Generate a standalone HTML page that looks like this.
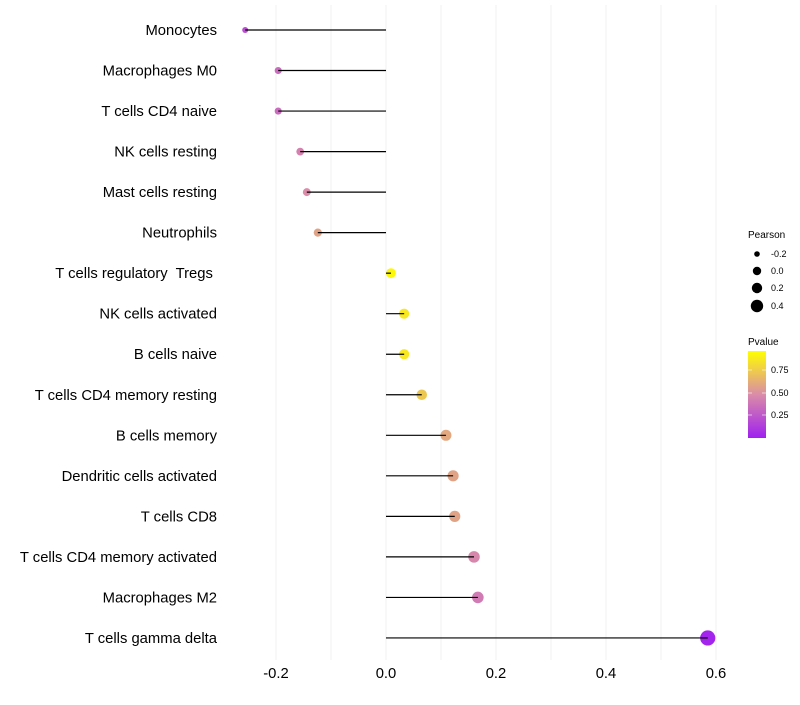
<!DOCTYPE html>
<html><head><meta charset="utf-8"><style>
body{margin:0;background:#fff;}
svg text{font-family:"Liberation Sans",sans-serif;white-space:pre;}
</style></head><body>
<svg width="800" height="700" xmlns="http://www.w3.org/2000/svg">
<defs><linearGradient id="pg" x1="0" y1="1" x2="0" y2="0">
<stop offset="0" stop-color="#a020f0"/><stop offset="0.5" stop-color="#da8ca8"/><stop offset="1" stop-color="#ffff00"/></linearGradient></defs>
<g id="grid"></g>
<g id="marks"></g>
<g id="ylabels"></g>
<g id="xlabels"></g>
<g font-size="9">
<text x="748" y="238" font-size="10">Pearson</text>
<circle cx="757" cy="254" r="2.8" fill="#000"/><text x="771" y="257">-0.2</text>
<circle cx="757" cy="271" r="4.2" fill="#000"/><text x="771" y="274">0.0</text>
<circle cx="757" cy="288" r="5.2" fill="#000"/><text x="771" y="291">0.2</text>
<circle cx="757" cy="306" r="6.2" fill="#000"/><text x="771" y="309">0.4</text>
</g>
<g font-size="9">
<text x="748" y="345" font-size="10">Pvalue</text>
<rect x="748" y="351" width="18" height="87" fill="url(#pg)"/>
<line x1="748" x2="752" y1="370" y2="370" stroke="#fff" opacity=".6"/><line x1="762" x2="766" y1="370" y2="370" stroke="#fff" opacity=".6"/>
<line x1="748" x2="752" y1="393" y2="393" stroke="#fff" opacity=".6"/><line x1="762" x2="766" y1="393" y2="393" stroke="#fff" opacity=".6"/>
<line x1="748" x2="752" y1="415" y2="415" stroke="#fff" opacity=".6"/><line x1="762" x2="766" y1="415" y2="415" stroke="#fff" opacity=".6"/>
<text x="771" y="373">0.75</text><text x="771" y="396">0.50</text><text x="771" y="418">0.25</text>
</g>
</svg>
<script>
const categories=["Monocytes","Macrophages M0","T cells CD4 naive","NK cells resting","Mast cells resting","Neutrophils","T cells regulatory  Tregs ","NK cells activated","B cells naive","T cells CD4 memory resting","B cells memory","Dendritic cells activated","T cells CD8","T cells CD4 memory activated","Macrophages M2","T cells gamma delta"];
const pearson=[-0.256,-0.196,-0.196,-0.156,-0.144,-0.124,0.009,0.033,0.033,0.065,0.109,0.122,0.125,0.16,0.167,0.585];
const pvalue=[0.22,0.35,0.35,0.45,0.5,0.6,0.97,0.9,0.9,0.76,0.62,0.6,0.6,0.47,0.42,0.02];
const xTicks=[-0.2,0,0.2,0.4,0.6];
const xTickLabels=["-0.2","0.0","0.2","0.4","0.6"];
const xMinor=[-0.1,0.1,0.3,0.5];
const NS="http://www.w3.org/2000/svg";
const x=v=>386+v*550;
const y=i=>30+i*40.53;
const rad=v=>Math.sqrt(Math.max(3,24+58*v));
function mix(a,b,t){return a.map((c,k)=>Math.round(c+(b[k]-c)*t));}
function col(p){const s=[[160,32,240],[218,140,168],[255,255,0]];const c=p<0.5?mix(s[0],s[1],p/0.5):mix(s[1],s[2],(p-0.5)/0.5);return `rgb(${c})`;}
function mk(t,at,parent){const e=document.createElementNS(NS,t);for(const k in at)e.setAttribute(k,at[k]);parent.appendChild(e);return e;}
const grid=document.getElementById('grid'),marks=document.getElementById('marks'),yl=document.getElementById('ylabels'),xl=document.getElementById('xlabels');
xTicks.concat(xMinor).forEach(v=>{const l=mk('line',{x1:x(v),x2:x(v),y1:5,y2:660,stroke:'#f2f2f2','stroke-width':1},grid);

});
xTicks.forEach((v,i)=>{const t=mk('text',{x:x(v),y:678,'text-anchor':'middle','font-size':14.8,fill:'#000'},xl);t.textContent=xTickLabels[i];

});
categories.forEach((c,i)=>{
const t=mk('text',{x:217,y:y(i)+5,'text-anchor':'end','font-size':14.8,fill:'#000'},yl);t.textContent=c;


const d=mk('circle',{cx:x(pearson[i]),cy:y(i),r:rad(pearson[i]),fill:col(pvalue[i])},marks);


const s=mk('line',{x1:x(0),x2:x(pearson[i]),y1:y(i),y2:y(i),stroke:'#000','stroke-width':1.2},marks);


});
</script>
</body></html>
